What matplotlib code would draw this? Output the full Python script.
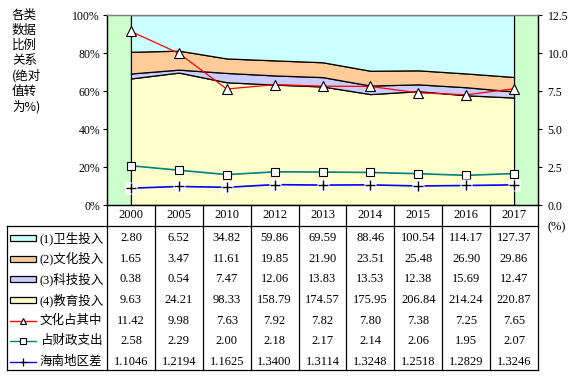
import matplotlib
matplotlib.use("Agg")
import matplotlib.pyplot as plt
import numpy as np
from matplotlib.patches import Rectangle
from matplotlib.lines import Line2D

years = ["2000", "2005", "2010", "2012", "2013", "2014", "2015", "2016", "2017"]
health = [2.80, 6.52, 34.82, 59.86, 69.59, 88.46, 100.54, 114.17, 127.37]
culture = [1.65, 3.47, 11.61, 19.85, 21.90, 23.51, 25.48, 26.90, 29.86]
tech = [0.38, 0.54, 7.47, 12.06, 13.83, 13.53, 12.38, 15.69, 12.47]
edu = [9.63, 24.21, 98.33, 158.79, 174.57, 175.95, 206.84, 214.24, 220.87]
culture_share = [11.42, 9.98, 7.63, 7.92, 7.82, 7.80, 7.38, 7.25, 7.65]
fiscal_share = [2.58, 2.29, 2.00, 2.18, 2.17, 2.14, 2.06, 1.95, 2.07]
hainan_diff = [1.1046, 1.2194, 1.1625, 1.3400, 1.3114, 1.3248, 1.2518, 1.2829, 1.3246]

area_labels = ["(1)卫生投入", "(2)文化投入", "(3)科技投入", "(4)教育投入"]
line_labels = ["文化占其中", "占财政支出", "海南地区差"]
left_title = ["各类", "数据", "比例", "关系", "(绝对", "值转", "为%)"]

c_health, c_culture, c_tech, c_edu = "#CCFFFF", "#FFCC99", "#CCCCFF", "#FFFFCC"
c_red, c_teal, c_blue = "#FF0000", "#008080", "#0000FF"

W, H = 576, 376
fig = plt.figure(figsize=(W / 100, H / 100), dpi=100)

serif = ["Liberation Serif", "Noto Sans CJK SC"]
cjk = ["Noto Sans CJK SC", "DejaVu Sans"]

# plot area in pixels
L, R, T, B = 107, 538, 15, 205
ax = fig.add_axes([L / W, 1 - B / H, (R - L) / W, (B - T) / H])
ax.set_facecolor("#CCFFCC")
x = np.arange(len(years))
h = np.array(health); c = np.array(culture); t = np.array(tech); e = np.array(edu)
tot = h + c + t + e
fe, ft, fc, fh = e / tot, t / tot, c / tot, h / tot
ax.stackplot(x, fe, ft, fc, fh, colors=[c_edu, c_tech, c_culture, c_health],
             edgecolor="black", linewidth=0.9)
ax.set_xlim(-0.5, len(years) - 0.5)
ax.set_ylim(0, 1)
ax.set_xticks([])
ax.set_yticks(np.linspace(0, 1, 6))
ax.set_yticklabels([f"{int(v*100)}%" for v in np.linspace(0, 1, 6)], fontfamily=serif, fontsize=8.5)
ax.tick_params(axis="y", length=3, width=0.8, pad=2, direction="out")
for s in ax.spines.values():
    s.set_linewidth(0.9)
ax.spines["top"].set_color("#808080")

ax2 = ax.twinx()
ax2.set_ylim(0, 12.5)
ax2.set_yticks(np.arange(0, 12.51, 2.5))
ax2.set_yticklabels([f"{v:.1f}" for v in np.arange(0, 12.51, 2.5)], fontfamily=serif, fontsize=8.5)
ax2.tick_params(axis="y", length=3, width=0.8, pad=4, direction="out")
for s in ax2.spines.values():
    s.set_linewidth(0.9)
ax2.spines["top"].set_color("#808080")

ax2.plot(x, culture_share, color=c_red, lw=0.9, marker="^", ms=7, mfc="white", mec="black", mew=0.8, zorder=5)
ax2.plot(x, fiscal_share, color=c_teal, lw=1.2, marker="s", ms=6, mfc="white", mec="black", mew=0.8, zorder=5)
ax2.plot(x, hainan_diff, color=c_blue, lw=1.2, zorder=4)
ax2.plot(x, hainan_diff, ls="none", marker="s", ms=8, mfc="white", mec="none", zorder=5)
ax2.plot(x, hainan_diff, ls="none", marker="+", ms=7, mec="black", mew=1.0, zorder=6)

# overlay axes for table and texts in pixel coords
ov = fig.add_axes([0, 0, 1, 1])
ov.set_xlim(0, W); ov.set_ylim(H, 0); ov.axis("off")

lw = 0.9
colw = (R - L) / len(years)
hdr_bot = 226
tbl_bot = 370
tbl_left = 7
# header row
ov.plot([L, L], [B, tbl_bot], color="black", lw=lw)
for i in range(1, len(years) + 1):
    xx = L + i * colw
    ov.plot([xx, xx], [B, tbl_bot], color="black", lw=lw)
ov.plot([tbl_left, R], [hdr_bot, hdr_bot], color="black", lw=lw)
ov.plot([tbl_left, R], [tbl_bot, tbl_bot], color="black", lw=lw)
ov.plot([tbl_left, tbl_left], [hdr_bot, tbl_bot], color="black", lw=lw)
for i, yv in enumerate(years):
    ov.text(L + (i + 0.5) * colw, 215.5, yv, ha="center", va="center", fontfamily=serif, fontsize=9)

rows = [health, culture, tech, edu, culture_share, fiscal_share, hainan_diff]
fmts = ["{:.2f}"] * 6 + ["{:.4f}"]
labels = area_labels + line_labels
y0, dy = 238, 20.67
for r, (vals, fmt) in enumerate(zip(rows, fmts)):
    yc = y0 + r * dy
    for i, v in enumerate(vals):
        ov.text(L + (i + 0.5) * colw, yc, fmt.format(v), ha="center", va="center", fontfamily=serif, fontsize=9)
    ov.text(40, yc, labels[r], ha="left", va="center", fontfamily=serif, fontsize=9)

for r, col in enumerate([c_health, c_culture, c_tech, c_edu]):
    yc = y0 + r * dy
    ov.add_patch(Rectangle((10, yc - 3), 26, 6, facecolor=col, edgecolor="black", lw=0.9))
for r, (col, mk) in enumerate(zip([c_red, c_teal, c_blue], ["^", "s", "+"]), start=4):
    yc = y0 + r * dy
    ov.plot([10, 36], [yc, yc], color=col, lw=1.0)
    if mk == "+":
        ov.plot([23], [yc], marker="+", ms=6, mec="black", mew=0.9, ls="none")
    else:
        ov.plot([23], [yc], marker=mk, ms=5, mfc="white", mec="black", mew=0.8, ls="none")

ov.text(548, 227, "(%)", ha="left", va="center", fontfamily=serif, fontsize=9)

for i, s in enumerate(left_title):
    ov.text(12, 15 + i * 15.3, s, ha="left", va="center", fontfamily=cjk, fontsize=9)

fig.savefig("out.png", dpi=100)
